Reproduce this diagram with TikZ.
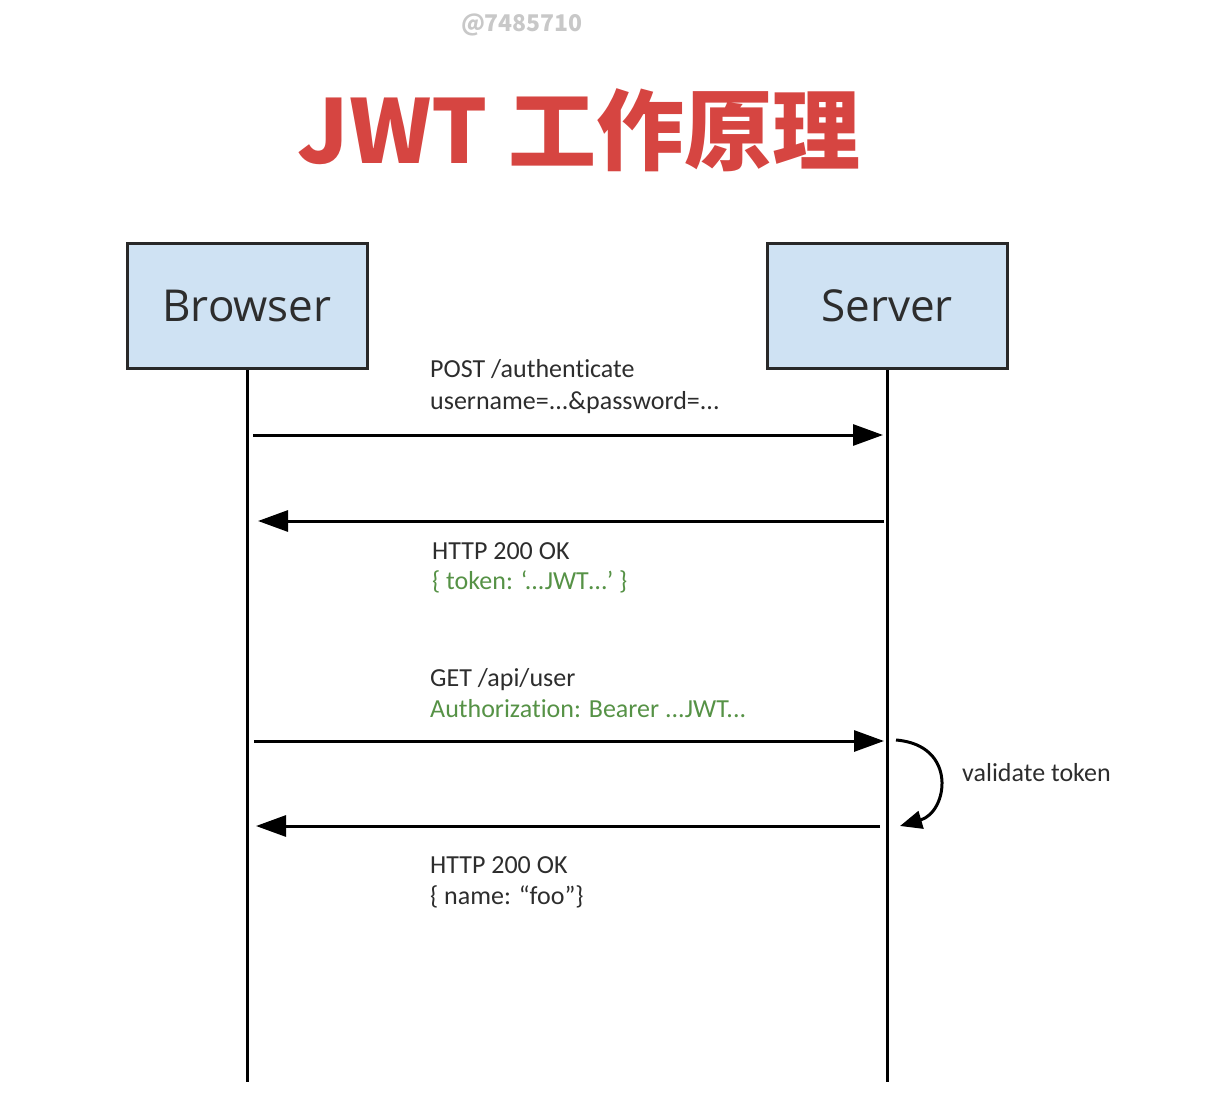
\documentclass[tikz,border=0pt]{standalone}
\usepackage{fontspec}
\setmainfont{Carlito}[Ligatures={NoCommon}]
\newfontfamily\boxfont{Open Sans}
\newfontfamily\titlefont{Noto Sans CJK SC}
\usepackage{tikz}
\usetikzlibrary{arrows.meta,positioning}

\definecolor{boxblue}{RGB}{207,226,243}
\definecolor{boxline}{RGB}{40,40,40}
\definecolor{textgray}{RGB}{45,45,45}
\definecolor{jwtgreen}{RGB}{86,146,70}
\definecolor{titlered}{RGB}{214,69,65}
\definecolor{wmgray}{RGB}{200,200,200}

\begin{document}
\begin{tikzpicture}[x=1pt,y=-1pt,
    actor/.style={draw=boxline, fill=boxblue, line width=3pt,
      minimum width=240pt, minimum height=125pt,
      font=\boxfont\fontsize{44}{50}\selectfont, text=textgray},
    lifeline/.style={draw=black, line width=3pt},
    msg/.style={line width=3pt, -{Triangle[length=30pt,width=21pt]}},
    lbl/.style={anchor=base west, inner sep=0pt,
      font=\fontsize{26}{32}\selectfont, text=textgray},
    greenlbl/.style={lbl, text=jwtgreen}]
  \useasboundingbox (0,0) rectangle (1221,1103);

  % watermark and title
  \node[font=\titlefont\bfseries\fontsize{23}{23}\selectfont, text=wmgray] (mark) at (522,25) {@7485710};
  \node[font=\titlefont\bfseries\fontsize{88}{88}\selectfont, text=titlered] (title) at (579,130) {JWT 工作原理};

  % actors and lifelines
  \node[actor] (browser) at (247,306) {Browser};
  \node[actor] (server) at (887,306) {Server};
  \coordinate (browserend) at (247,1082);
  \coordinate (serverend) at (887,1082);
  \draw[lifeline] (browser.south) -- (browserend);
  \draw[lifeline] (server.south) -- (serverend);

  % points on the lifelines
  \coordinate (b1) at (browser.south |- 0,435);
  \coordinate (s1) at (server.south |- 0,435);
  \coordinate (b2) at (browser.south |- 0,521);
  \coordinate (s2) at (server.south |- 0,521);
  \coordinate (b3) at (browser.south |- 0,741);
  \coordinate (s3) at (server.south |- 0,741);
  \coordinate (b4) at (browser.south |- 0,826);
  \coordinate (s4) at (server.south |- 0,826);

  % messages
  \draw[msg, shorten <=6pt, shorten >=4pt] (b1) -- (s1);
  \draw[msg, shorten <=3pt, shorten >=11pt] (s2) -- (b2);
  \draw[msg, shorten <=7pt, shorten >=3pt] (b3) -- (s3);
  \draw[msg, shorten <=7pt, shorten >=9pt] (s4) -- (b4);

  \node[lbl] (post) at (430,377) {POST /authenticate};
  \node[lbl] (cred) at (430,409) {username=...\&password=...};
  \node[lbl] (ok1) at (432,559) {HTTP 200 OK};
  \node[greenlbl] (token) at (432,589) {\{ token: ‘...JWT…’ \}};
  \node[lbl] (get) at (430,686) {GET /api/user};
  \node[greenlbl] (auth) at (430,717) {Authorization: Bearer ...JWT...};
  \node[lbl] (ok2) at (430,873) {HTTP 200 OK};
  \node[lbl] (name) at (430,904) {\{ name: “foo”\}};

  % self check on the server
  \coordinate (v1) at (896,740);
  \coordinate (v2) at (900,826);
  \draw[line width=3pt, -{Triangle[length=22pt,width=18pt]}] (v1) .. controls (958,745) and (948,812) .. (v2);
  \node[lbl] (validate) at (962,781) {validate token};
\end{tikzpicture}
\end{document}
